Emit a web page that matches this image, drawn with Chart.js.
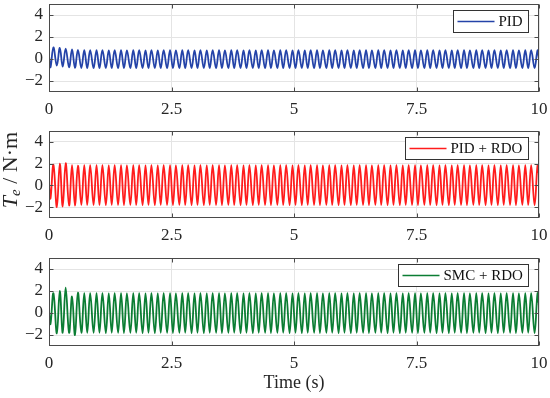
<!DOCTYPE html>
<html lang="en">
<head>
  <meta charset="UTF-8">
  <title>Electromagnetic Torque</title>
  <script src="https://cdn.jsdelivr.net/npm/chart.js"></script>
  <style>
    body {
      margin: 0;
      background: #fff;
    }

    #wrap {
      position: relative;
      width: 550px;
      height: 398px;
    }

    canvas {
      position: absolute;
      left: 0;
    }
  </style>
</head>
<body>
  <div id="wrap">
    <canvas id="c1" width="550" height="125" style="top:0"></canvas>
    <canvas id="c2" width="550" height="125" style="top:125px"></canvas>
    <canvas id="c3" width="550" height="148" style="top:250px"></canvas>
  </div>

  <script>
    const xTicks = [0, 2.5, 5, 7.5, 10];
    const yTicks = [-2, 0, 2, 4];
    const seriesNames = ['PID', 'PID + RDO', 'SMC + RDO'];

    // sample times (s): start, then every turning point of the ripple, then the end
    const time = [
      0, 0.03, 0.09, 0.16, 0.22, 0.28, 0.34, 0.41, 0.47, 0.53, 0.59, 0.66, 0.72, 0.78, 0.84, 0.91, 0.97,
      1.03, 1.09, 1.16, 1.22, 1.28, 1.34, 1.41, 1.47, 1.53, 1.59, 1.66, 1.72, 1.78, 1.84, 1.91, 1.97,
      2.03, 2.09, 2.16, 2.22, 2.28, 2.34, 2.41, 2.47, 2.53, 2.59, 2.66, 2.72, 2.78, 2.84, 2.91, 2.97,
      3.03, 3.09, 3.16, 3.22, 3.28, 3.34, 3.41, 3.47, 3.53, 3.59, 3.66, 3.72, 3.78, 3.84, 3.91, 3.97,
      4.03, 4.09, 4.16, 4.22, 4.28, 4.34, 4.41, 4.47, 4.53, 4.59, 4.66, 4.72, 4.78, 4.84, 4.91, 4.97,
      5.03, 5.09, 5.16, 5.22, 5.28, 5.34, 5.41, 5.47, 5.53, 5.59, 5.66, 5.72, 5.78, 5.84, 5.91, 5.97,
      6.03, 6.09, 6.16, 6.22, 6.28, 6.34, 6.41, 6.47, 6.53, 6.59, 6.66, 6.72, 6.78, 6.84, 6.91, 6.97,
      7.03, 7.09, 7.16, 7.22, 7.28, 7.34, 7.41, 7.47, 7.53, 7.59, 7.66, 7.72, 7.78, 7.84, 7.91, 7.97,
      8.03, 8.09, 8.16, 8.22, 8.28, 8.34, 8.41, 8.47, 8.53, 8.59, 8.66, 8.72, 8.78, 8.84, 8.91, 8.97,
      9.03, 9.09, 9.16, 9.22, 9.28, 9.34, 9.41, 9.47, 9.53, 9.59, 9.66, 9.72, 9.78, 9.84, 9.91, 9.97,
      10
    ];

    const pid = [
      0.3, -0.75, 1.05, -0.6, 1.0, -0.7, 0.95, -0.75, 0.88, -0.8, 0.82, -0.82, 0.8, -0.83, 0.8, -0.83, 0.8,
      -0.83, 0.8, -0.82, 0.79, -0.83, 0.8, -0.83, 0.8, -0.82, 0.79, -0.83, 0.8, -0.83, 0.8, -0.82, 0.79,
      -0.83, 0.8, -0.82, 0.79, -0.83, 0.8, -0.83, 0.8, -0.82, 0.79, -0.83, 0.8, -0.83, 0.8, -0.82, 0.79,
      -0.83, 0.8, -0.82, 0.79, -0.83, 0.8, -0.83, 0.8, -0.82, 0.79, -0.83, 0.8, -0.83, 0.8, -0.82, 0.79,
      -0.83, 0.8, -0.82, 0.79, -0.83, 0.8, -0.83, 0.8, -0.82, 0.79, -0.83, 0.8, -0.83, 0.8, -0.82, 0.79,
      -0.83, 0.8, -0.82, 0.79, -0.83, 0.8, -0.83, 0.8, -0.82, 0.79, -0.83, 0.8, -0.83, 0.8, -0.82, 0.79,
      -0.83, 0.8, -0.82, 0.79, -0.83, 0.8, -0.83, 0.8, -0.82, 0.79, -0.83, 0.8, -0.83, 0.8, -0.82, 0.79,
      -0.83, 0.8, -0.82, 0.79, -0.83, 0.8, -0.83, 0.8, -0.82, 0.79, -0.83, 0.8, -0.83, 0.8, -0.82, 0.79,
      -0.83, 0.8, -0.82, 0.79, -0.83, 0.8, -0.83, 0.8, -0.82, 0.79, -0.83, 0.8, -0.83, 0.8, -0.82, 0.79,
      -0.83, 0.8, -0.82, 0.79, -0.83, 0.8, -0.83, 0.8, -0.82, 0.79, -0.83, 0.8, -0.83, 0.8, -0.82, 0.79,
      0.0
    ];

    const pidRdo = [
      0.2, -1.2, 1.9, -2.0, 2.0, -1.95, 2.05, -1.85, 1.85, -1.85, 1.82, -1.8, 1.85, -1.8, 1.85, -1.8, 1.85,
      -1.8, 1.85, -1.82, 1.84, -1.8, 1.85, -1.8, 1.85, -1.82, 1.84, -1.8, 1.85, -1.8, 1.85, -1.82, 1.84,
      -1.8, 1.85, -1.82, 1.84, -1.8, 1.85, -1.8, 1.85, -1.82, 1.84, -1.8, 1.85, -1.8, 1.85, -1.82, 1.84,
      -1.8, 1.85, -1.82, 1.84, -1.8, 1.85, -1.8, 1.85, -1.82, 1.84, -1.8, 1.85, -1.8, 1.85, -1.82, 1.84,
      -1.8, 1.85, -1.82, 1.84, -1.8, 1.85, -1.8, 1.85, -1.82, 1.84, -1.8, 1.85, -1.8, 1.85, -1.82, 1.84,
      -1.8, 1.85, -1.82, 1.84, -1.8, 1.85, -1.8, 1.85, -1.82, 1.84, -1.8, 1.85, -1.8, 1.85, -1.82, 1.84,
      -1.8, 1.85, -1.82, 1.84, -1.8, 1.85, -1.8, 1.85, -1.82, 1.84, -1.8, 1.85, -1.8, 1.85, -1.82, 1.84,
      -1.8, 1.85, -1.82, 1.84, -1.8, 1.85, -1.8, 1.85, -1.82, 1.84, -1.8, 1.85, -1.8, 1.85, -1.82, 1.84,
      -1.8, 1.85, -1.82, 1.84, -1.8, 1.85, -1.8, 1.85, -1.82, 1.84, -1.8, 1.85, -1.8, 1.85, -1.82, 1.84,
      -1.8, 1.85, -1.82, 1.84, -1.8, 1.85, -1.8, 1.85, -1.82, 1.84, -1.8, 1.85, -1.8, 1.85, -1.82, 1.84,
      0.9
    ];

    const smcRdo = [
      0.2, -1.0, 1.8, -1.85, 2.0, -1.8, 2.3, -1.8, 1.5, -2.0, 1.85, -1.8, 1.8, -1.8, 1.8, -1.8, 1.8,
      -1.8, 1.8, -1.82, 1.79, -1.8, 1.8, -1.8, 1.8, -1.82, 1.79, -1.8, 1.8, -1.8, 1.8, -1.82, 1.79,
      -1.8, 1.8, -1.82, 1.79, -1.8, 1.8, -1.8, 1.8, -1.82, 1.79, -1.8, 1.8, -1.8, 1.8, -1.82, 1.79,
      -1.8, 1.8, -1.82, 1.79, -1.8, 1.8, -1.8, 1.8, -1.82, 1.79, -1.8, 1.8, -1.8, 1.8, -1.82, 1.79,
      -1.8, 1.8, -1.82, 1.79, -1.8, 1.8, -1.8, 1.8, -1.82, 1.79, -1.8, 1.8, -1.8, 1.8, -1.82, 1.79,
      -1.8, 1.8, -1.82, 1.79, -1.8, 1.8, -1.8, 1.8, -1.82, 1.79, -1.8, 1.8, -1.8, 1.8, -1.82, 1.79,
      -1.8, 1.8, -1.82, 1.79, -1.8, 1.8, -1.8, 1.8, -1.82, 1.79, -1.8, 1.8, -1.8, 1.8, -1.82, 1.79,
      -1.8, 1.8, -1.82, 1.79, -1.8, 1.8, -1.8, 1.8, -1.82, 1.79, -1.8, 1.8, -1.8, 1.8, -1.82, 1.79,
      -1.8, 1.8, -1.82, 1.79, -1.8, 1.8, -1.8, 1.8, -1.82, 1.79, -1.8, 1.8, -1.8, 1.8, -1.82, 1.79,
      -1.8, 1.8, -1.82, 1.79, -1.8, 1.8, -1.8, 1.8, -1.82, 1.79, -1.8, 1.8, -1.8, 1.8, -1.82, 1.79,
      0.6
    ];

    const SERIF = '"Liberation Serif", "Times New Roman", serif';
    const TEXT = '#262626';

    // box, inner tick marks and the little boxed legend, matlab style
    const framePlugin = {
      id: 'frame',
      afterDatasetsDraw(chart, args, opts) {
        const { ctx, chartArea: a } = chart;
        const x = chart.scales.x, y = chart.scales.y;
        const L = Math.round(a.left) + 0.5, R = Math.round(a.right) - 0.5;
        const T = Math.round(a.top) + 0.5, B = Math.round(a.bottom) - 0.5;
        ctx.save();
        ctx.strokeStyle = '#4a4a4a';
        ctx.lineWidth = 1;
        ctx.beginPath();
        xTicks.forEach(v => {
          const px = Math.round(x.getPixelForValue(v)) + 0.5;
          ctx.moveTo(px, B); ctx.lineTo(px, B - 4);
          ctx.moveTo(px, T); ctx.lineTo(px, T + 4);
        });
        yTicks.forEach(v => {
          const py = Math.round(y.getPixelForValue(v)) + 0.5;
          ctx.moveTo(L, py); ctx.lineTo(L + 4, py);
          ctx.moveTo(R, py); ctx.lineTo(R - 4, py);
        });
        ctx.stroke();
        ctx.strokeRect(L, T, R - L, B - T);

        // legend
        ctx.font = '15px ' + SERIF;
        const tw = ctx.measureText(opts.label).width;
        const w = Math.round(45 + tw + 6), h = 22;
        const bx = Math.round(a.right - 11 - w) + 0.5, by = Math.round(a.top + 6) + 0.5;
        ctx.fillStyle = '#fff';
        ctx.fillRect(bx, by, w, h);
        ctx.strokeStyle = '#333';
        ctx.strokeRect(bx, by, w, h);
        ctx.strokeStyle = opts.color;
        ctx.lineWidth = 1.5;
        ctx.beginPath();
        ctx.moveTo(bx + 4, by + h / 2);
        ctx.lineTo(bx + 41, by + h / 2);
        ctx.stroke();
        ctx.fillStyle = '#111';
        ctx.textBaseline = 'middle';
        ctx.fillText(opts.label, bx + 45, by + h / 2 + 1);
        ctx.restore();
      }
    };

    // y title  T_e / N·m, drawn once on the middle panel
    const yTitlePlugin = {
      id: 'ytitle',
      afterDraw(chart, args, opts) {
        if (!opts.show) return;
        const ctx = chart.ctx;
        ctx.save();
        ctx.translate(11, opts.cy);
        ctx.rotate(-Math.PI / 2);
        ctx.fillStyle = TEXT;
        ctx.textBaseline = 'middle';
        const big = '22px ' + SERIF, bigI = 'italic 22px ' + SERIF, small = 'italic 15px ' + SERIF;
        const rest = ' / N·m';
        ctx.font = bigI; const w1 = ctx.measureText('T').width;
        ctx.font = small; const w2 = ctx.measureText('e').width;
        ctx.font = big; const w3 = ctx.measureText(rest).width;
        let px = -(w1 + w2 + w3) / 2;
        ctx.font = bigI; ctx.fillText('T', px, 0); px += w1;
        ctx.font = small; ctx.fillText('e', px, 5); px += w2;
        ctx.font = big; ctx.fillText(rest, px, 0);
        ctx.restore();
      }
    };

    function makePanel(id, values, color, name, padTop, xAxisH, withTitles) {
      const points = time.map((t, i) => ({ x: t, y: values[i] }));
      return new Chart(document.getElementById(id), {
        type: 'line',
        data: {
          datasets: [{
            label: name,
            data: points,
            borderColor: color,
            borderWidth: 1.8,
            pointRadius: 0,
            tension: 0.4,
            fill: false
          }]
        },
        options: {
          responsive: false,
          animation: false,
          layout: { padding: { top: padTop, right: 11, left: 0, bottom: 0 } },
          plugins: {
            legend: { display: false },
            tooltip: { enabled: false },
            frame: { label: name, color: color },
            ytitle: { show: withTitles === 'y', cy: 45 }
          },
          scales: {
            x: {
              type: 'linear',
              min: 0,
              max: 10,
              afterBuildTicks: s => { s.ticks = xTicks.map(v => ({ value: v })); },
              afterFit: s => { s.height = xAxisH; s.paddingLeft = 0; s.paddingRight = 0; },
              ticks: {
                font: { family: SERIF, size: 17 },
                color: TEXT,
                padding: 7,
                maxRotation: 0,
                callback: v => String(v)
              },
              grid: { color: '#e4e4e4', drawTicks: false },
              border: { display: false },
              title: {
                display: withTitles === 'x',
                text: 'Time (s)',
                font: { family: SERIF, size: 18 },
                color: TEXT,
                padding: { top: 0, bottom: 4 }
              }
            },
            y: {
              min: -3,
              max: 5,
              afterBuildTicks: s => { s.ticks = yTicks.map(v => ({ value: v })); },
              afterFit: s => { s.width = 49; s.paddingTop = 0; s.paddingBottom = 0; },
              ticks: {
                font: { family: SERIF, size: 17 },
                color: TEXT,
                padding: 6,
                callback: v => String(v).replace('-', '\u2212')
              },
              grid: { color: '#e4e4e4', drawTicks: false },
              border: { display: false }
            }
          }
        },
        plugins: [framePlugin, yTitlePlugin]
      });
    }

    makePanel('c1', pid, '#2443a8', seriesNames[0], 4, 33, '');
    makePanel('c2', pidRdo, '#ff1c1c', seriesNames[1], 6, 32, 'y');
    makePanel('c3', smcRdo, '#0b7d33', seriesNames[2], 8, 52, 'x');
  </script>
</body>
</html>
